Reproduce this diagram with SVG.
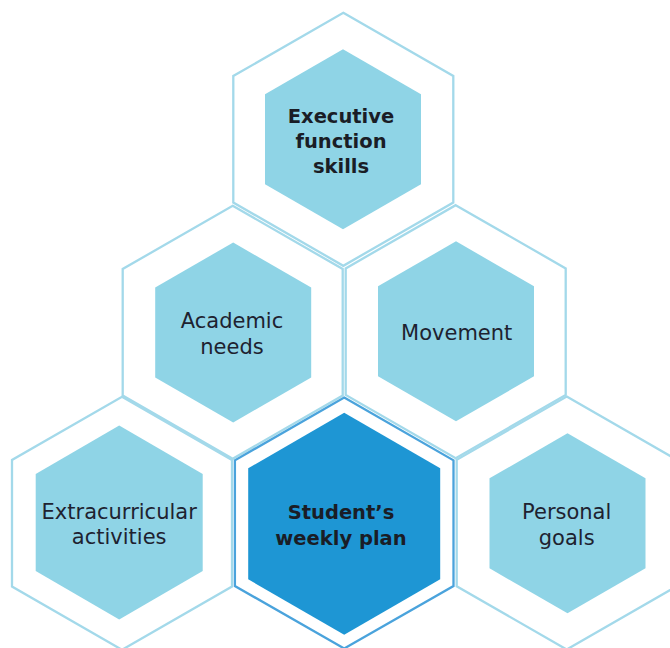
<svg xmlns="http://www.w3.org/2000/svg" width="670" height="648" viewBox="0 0 670 648">
  <style>
    .outer { fill: #ffffff; stroke: #a3d9ea; stroke-width: 2.3; stroke-linejoin: miter; }
    .outer-main { fill: #ffffff; stroke: #4aa3dc; stroke-width: 2.3; stroke-linejoin: miter; }
    .inner { fill: #8fd4e6; }
    .inner-main { fill: #1e96d4; }
    .lbl { font-family: "DejaVu Sans", "Liberation Sans", sans-serif; font-size: 21px; fill: #1e2230; text-anchor: middle; }
    .lbl-b { font-family: "DejaVu Sans", "Liberation Sans", sans-serif; font-size: 19.5px; font-weight: bold; fill: #1a1d26; text-anchor: middle; }
  </style>
  <rect width="670" height="648" fill="#ffffff"/>

  <g id="node-executive">
    <polygon class="outer" points="343.3,12.8 453.3,76 453.3,202.5 343.3,265.8 233.3,202.5 233.3,76"/>
    <polygon class="inner" points="343,49.3 421,94.3 421,184.3 343,229.3 265,184.3 265,94.3"/>
    <text class="lbl-b" x="341" y="123.3">Executive</text>
    <text class="lbl-b" x="341" y="148.3">function</text>
    <text class="lbl-b" x="341" y="173.3">skills</text>
  </g>

  <g id="node-academic">
    <polygon class="outer" points="232.7,205.8 342.7,269 342.7,395.5 232.7,458.8 122.7,395.5 122.7,269"/>
    <polygon class="inner" points="233.2,242.5 311.2,287.5 311.2,377.5 233.2,422.5 155.2,377.5 155.2,287.5"/>
    <text class="lbl" x="232" y="328.3">Academic</text>
    <text class="lbl" x="232" y="354.3">needs</text>
  </g>

  <g id="node-movement">
    <polygon class="outer" points="455.7,205.2 565.7,268.4 565.7,394.9 455.7,458.2 345.7,394.9 345.7,268.4"/>
    <polygon class="inner" points="456,241.3 534,286.3 534,376.3 456,421.3 378,376.3 378,286.3"/>
    <text class="lbl" x="456.7" y="340">Movement</text>
  </g>

  <g id="node-extracurricular">
    <polygon class="outer" points="122,396.8 232,460 232,586.5 122,649.8 12,586.5 12,460"/>
    <polygon class="inner" points="119.2,425.5 202.7,474 202.7,571 119.2,619.5 35.7,571 35.7,474"/>
    <text class="lbl" x="119.2" y="519.3">Extracurricular</text>
    <text class="lbl" x="119.2" y="544.3">activities</text>
  </g>

  <g id="node-personal">
    <polygon class="outer" points="566.7,396.5 676.7,459.8 676.7,586.3 566.7,649.5 456.7,586.3 456.7,459.8"/>
    <polygon class="inner" points="567.5,433.3 645.5,478.3 645.5,568.3 567.5,613.3 489.5,568.3 489.5,478.3"/>
    <text class="lbl" x="566.7" y="519.3">Personal</text>
    <text class="lbl" x="566.7" y="545">goals</text>
  </g>

  <g id="node-weekly-plan">
    <polygon class="outer-main" points="344.2,397.5 453.5,460.3 453.5,586 344.2,648.5 234.9,586 234.9,460.3"/>
    <polygon class="inner-main" points="344.2,412.8 440.2,468.3 440.2,579.3 344.2,634.8 248.2,579.3 248.2,468.3"/>
    <text class="lbl-b" x="341" y="519.3">Student’s</text>
    <text class="lbl-b" x="341" y="545">weekly plan</text>
  </g>
</svg>
